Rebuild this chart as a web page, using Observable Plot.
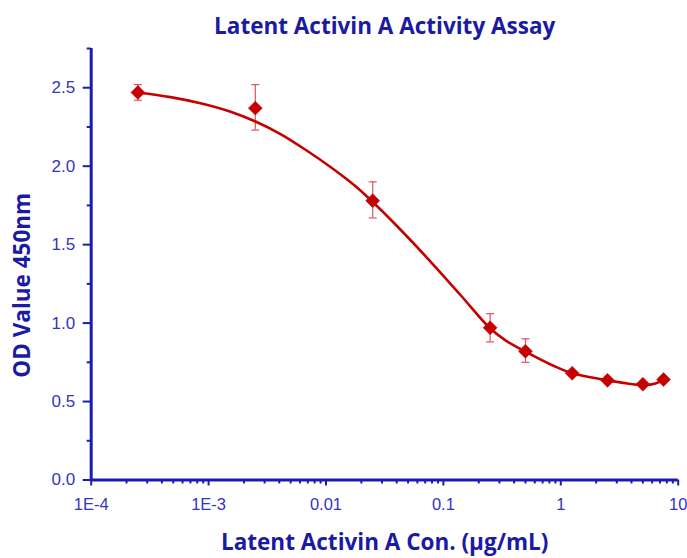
<!DOCTYPE html>
<html>
<head>
<meta charset="utf-8">
<script src="https://cdn.jsdelivr.net/npm/d3@7"></script>
<script src="https://cdn.jsdelivr.net/npm/@observablehq/plot@0.6"></script>
<style>
  html, body { margin: 0; padding: 0; background: #fff; }
  #chart svg { display: block; overflow: visible; }
</style>
</head>
<body>
<div id="chart"></div>
<script>
// ---- Data ----
const conc = [0.00025, 0.0025, 0.025, 0.25, 0.5, 1.25, 2.5, 5, 7.5];
const od = [2.47, 2.37, 1.78, 0.97, 0.82, 0.68, 0.635, 0.61, 0.64];
const errHigh = [2.52, 2.52, 1.90, 1.06, 0.90, 0.68, 0.635, 0.61, 0.64];
const errLow  = [2.42, 2.23, 1.67, 0.88, 0.75, 0.68, 0.635, 0.61, 0.64];

// fitted curve
const fitX = [0.000248, 0.000474, 0.000853, 0.00154, 0.00251, 0.0041, 0.00669, 0.01092, 0.01784, 0.0249, 0.0376, 0.0732, 0.1398, 0.247, 0.338, 0.5, 0.865, 1.26, 2.51, 3.7, 5.09, 6.41, 7.5];
const fitY = [2.47, 2.44, 2.401, 2.347, 2.2845, 2.2045, 2.1045, 1.9945, 1.872, 1.773, 1.641, 1.413, 1.179, 0.970, 0.890, 0.818, 0.728, 0.680, 0.635, 0.615, 0.605, 0.615, 0.640];

// axes
const xMajor = [1e-4, 1e-3, 0.01, 0.1, 1, 10];
const xLabels = ["1E-4", "1E-3", "0.01", "0.1", "1", "10"];
const xMinor = [2,3,4,5,6,7,8,9].flatMap(m => [1e-4, 1e-3, 0.01, 0.1, 1].map(d => m * d));
const yMajor = [0, 0.5, 1.0, 1.5, 2.0, 2.5];
const yMinor = [0.25, 0.75, 1.25, 1.75, 2.25, 2.75];

const titleText = "Latent Activin A Activity Assay";
const xTitle = "Latent Activin A Con. (µg/mL)";
const yTitle = "OD Value 450nm";

const points = conc.map((c, i) => ({c, v: od[i], lo: errLow[i], hi: errHigh[i]}));
const fit = fitX.map((c, i) => ({c, v: fitY[i]}));
const bars = points.filter(d => d.hi > d.lo);

const axisColor = "#1b1bb0";
const labelColor = "#3434c4";
const titleColor = "#1a1aa2";
const red = "#c60000";
const errColor = "#e2525c";
const titleFont = "'Open Sans', Lato, sans-serif";

const capSymbol = {
  draw(context, size) {
    const w = Math.sqrt(size / Math.PI);
    context.moveTo(-w, 0);
    context.lineTo(w, 0);
  }
};

const chart = Plot.plot({
  width: 687,
  height: 558,
  marginTop: 48,
  marginBottom: 78.5,
  marginLeft: 90.7,
  marginRight: 9.3,
  style: {fontFamily: "'Liberation Sans', Arial, sans-serif", background: "#fff"},
  x: {type: "log", domain: [1e-4, 10]},
  y: {domain: [0, 2.75]},
  marks: [
    // axis ticks & labels
    Plot.axisX({ticks: xMinor, tickSize: 4, tickFormat: () => "", stroke: axisColor, strokeWidth: 2, label: null}),
    Plot.axisX({ticks: xMajor, tickSize: 6, tickPadding: 12, strokeWidth: 2,
      tickFormat: d => xLabels[xMajor.indexOf(d)], stroke: axisColor, fill: labelColor, fontSize: 16.5, label: null}),
    Plot.axisY({ticks: yMinor, tickSize: 4, tickFormat: () => "", stroke: axisColor, strokeWidth: 2, label: null}),
    Plot.axisY({ticks: yMajor, tickSize: 8, tickPadding: 8, strokeWidth: 2,
      tickFormat: d3.format(".1f"), stroke: axisColor, fill: labelColor, fontSize: 17, label: null}),
    Plot.ruleY([0], {stroke: axisColor, strokeWidth: 3}),
    Plot.ruleX([1e-4], {stroke: axisColor, strokeWidth: 3}),
    // error bars
    Plot.ruleX(bars, {x: "c", y1: "lo", y2: "hi", stroke: errColor, strokeWidth: 1.2}),
    Plot.dot(bars, {x: "c", y: "lo", symbol: capSymbol, r: 4, fill: "none", stroke: errColor, strokeWidth: 1.2}),
    Plot.dot(bars, {x: "c", y: "hi", symbol: capSymbol, r: 4, fill: "none", stroke: errColor, strokeWidth: 1.2}),
    // fit curve
    Plot.line(fit, {x: "c", y: "v", curve: "catmull-rom", stroke: red, strokeWidth: 2.6}),
    // points
    Plot.dot(points, {x: "c", y: "v", symbol: "diamond2", r: 6.3, fill: red, stroke: red, strokeWidth: 0.5}),
    // titles
    Plot.text([titleText], {frameAnchor: "top", dy: -22, lineAnchor: "middle", textAnchor: "middle", fontSize: 22.5, fontWeight: "bold",
      fontFamily: titleFont, fill: titleColor}),
    Plot.text([xTitle], {frameAnchor: "bottom", dy: 62.5, lineAnchor: "middle", textAnchor: "middle", fontSize: 22.5, fontWeight: "bold",
      fontFamily: titleFont, fill: titleColor}),
    Plot.text([yTitle], {frameAnchor: "left", dx: -68.7, dy: 21, rotate: -90, lineAnchor: "middle", textAnchor: "middle", fontSize: 22.5, fontWeight: "bold",
      fontFamily: titleFont, fill: titleColor})
  ]
});
document.getElementById("chart").appendChild(chart);
</script>
</body>
</html>
